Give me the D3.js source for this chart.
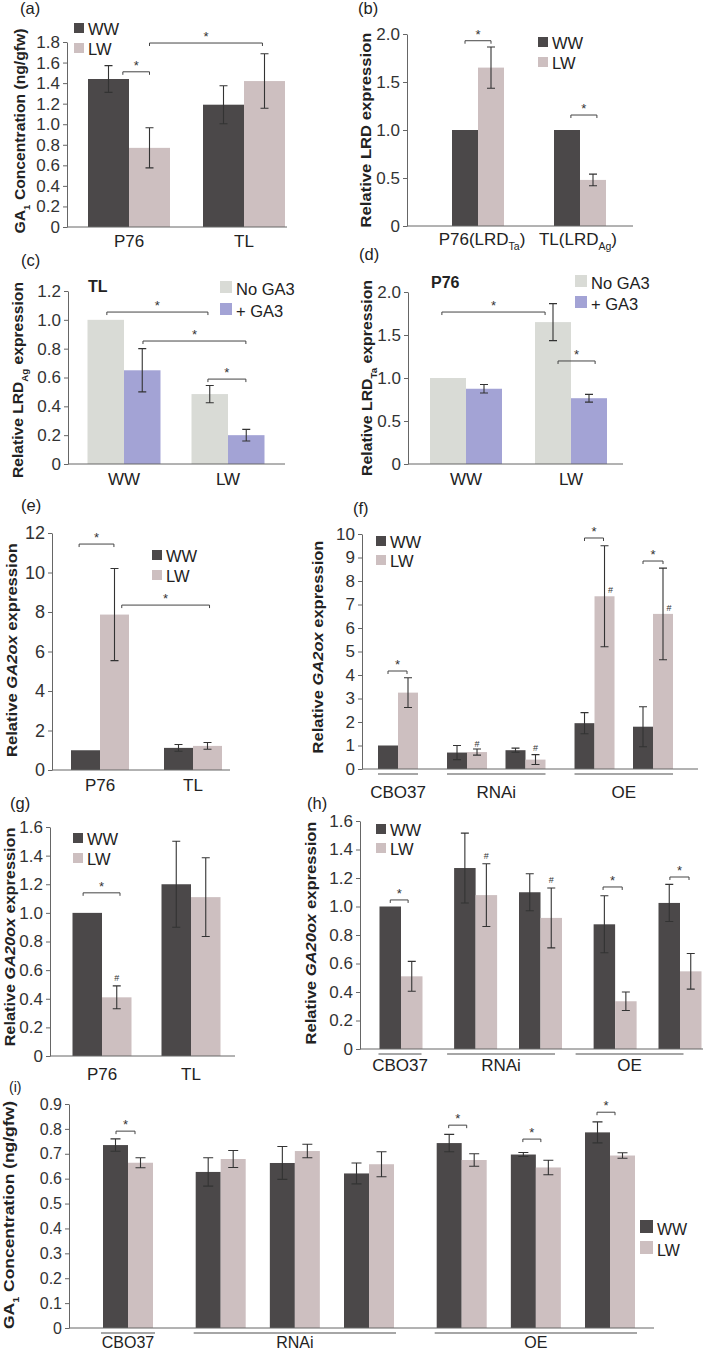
<!DOCTYPE html>
<html><head><meta charset="utf-8">
<script src="https://cdn.jsdelivr.net/npm/d3@7"></script>
<style>body{margin:0;background:#fff}svg{display:block}</style>
</head><body><svg id="c" width="709" height="1350"></svg>
<script>
// ---------------- DATA ----------------
const condWL = ["WW", "LW"];
const condGA = ["No GA3", "+ GA3"];
const catsPT = ["P76", "TL"];
const catsWL = ["WW", "LW"];
// (a) GA1 concentration
const aWW = [1.44, 1.19], aWWerr = [0.13, 0.185];
const aLW = [0.77, 1.42], aLWerr = [0.195, 0.265];
const aTicks = [0, 0.2, 0.4, 0.6, 0.8, 1.0, 1.2, 1.4, 1.6, 1.8];
// (b) relative LRD expression
const bWW = [1.0, 1.0], bWWerr = [0, 0];
const bLW = [1.65, 0.48], bLWerr = [0.215, 0.06];
const bTicks = [0, 0.5, 1.0, 1.5, 2.0];
// (c) TL LRD_Ag
const cNo = [1.0, 0.485], cNoErr = [0, 0.06];
const cGA = [0.65, 0.20], cGAerr = [0.15, 0.04];
const cTicks = [0, 0.2, 0.4, 0.6, 0.8, 1.0, 1.2];
// (d) P76 LRD_Ta
const dNo = [1.0, 1.65], dNoErr = [0, 0.215];
const dGA = [0.875, 0.765], dGAerr = [0.05, 0.045];
const dTicks = [0, 0.5, 1.0, 1.5, 2.0];
// (e) GA2ox
const eWW = [1.0, 1.12], eWWerr = [0, 0.17];
const eLW = [7.87, 1.22], eLWerr = [2.33, 0.17];
const eTicks = [0, 2, 4, 6, 8, 10, 12];
// (f) GA2ox transgenic
const fWW = [1.0, 0.7, 0.8, 1.95, 1.8], fWWerr = [0, 0.3, 0.09, 0.45, 0.85];
const fLW = [3.25, 0.72, 0.4, 7.35, 6.6], fLWerr = [0.63, 0.13, 0.21, 2.15, 1.95];
const fTicks = [0, 1, 2, 3, 4, 5, 6, 7, 8, 9, 10];
const fGroups = [{name: "CBO37", from: 0, to: 0}, {name: "RNAi", from: 1, to: 2}, {name: "OE", from: 3, to: 4}];
// (g) GA20ox
const gWW = [1.0, 1.2], gWWerr = [0, 0.3];
const gLW = [0.41, 1.11], gLWerr = [0.08, 0.275];
const gTicks = [0, 0.2, 0.4, 0.6, 0.8, 1.0, 1.2, 1.4, 1.6];
// (h) GA20ox transgenic
const hWW = [1.0, 1.27, 1.10, 0.875, 1.025], hWWerr = [0, 0.245, 0.13, 0.2, 0.13];
const hLW = [0.51, 1.08, 0.92, 0.335, 0.545], hLWerr = [0.105, 0.22, 0.21, 0.065, 0.125];
const hTicks = [0, 0.2, 0.4, 0.6, 0.8, 1.0, 1.2, 1.4, 1.6];
// (i) GA1 transgenic
const iWW = [0.735, 0.627, 0.663, 0.621, 0.743, 0.697, 0.786], iWWerr = [0.025, 0.057, 0.066, 0.042, 0.035, 0.008, 0.042];
const iLW = [0.664, 0.679, 0.711, 0.658, 0.675, 0.645, 0.693], iLWerr = [0.02, 0.034, 0.027, 0.05, 0.025, 0.029, 0.011];
const iTicks = [0, 0.1, 0.2, 0.3, 0.4, 0.5, 0.6, 0.7, 0.8, 0.9];
const iGroups = [{name: "CBO37", from: 0, to: 0}, {name: "RNAi", from: 1, to: 3}, {name: "OE", from: 4, to: 6}];

// ---------------- STYLE ----------------
const FONT = "'Liberation Sans', Arial, Helvetica, sans-serif";
const C_WW = "#4b4849", C_LW = "#cdbfc0", C_NO = "#d9dbd6", C_GA = "#a3a3d5";
const AX = "#666", ERR = "#333";
const TFS = 17, CFS = 17, LFS = 16.5;
const svg = d3.select("#c");

function rich(t, parts, fs) {
  let lastSub = false;
  parts.forEach(p => {
    const ts = t.append("tspan").text(p.t);
    if (p.it) ts.attr("font-style", "italic");
    if (p.sub) { ts.attr("font-size", fs * 0.62).attr("dy", fs * 0.3); lastSub = true; }
    else if (lastSub) { ts.attr("dy", -fs * 0.3); lastSub = false; }
  });
  return t;
}
function txt(x, y, parts, o) {
  o = o || {};
  const fs = o.fs || 15;
  const t = svg.append("text").attr("font-family", FONT).attr("font-size", fs)
    .attr("fill", o.fill || "#222").attr("text-anchor", o.anchor || "start")
    .attr("font-weight", o.bold ? "bold" : "normal");
  if (typeof parts === "string") t.text(parts); else rich(t, parts, fs);
  if (o.rot) {
    let sc = 1;
    if (o.len) sc = o.len / t.node().getBBox().width;
    t.attr("transform", `translate(${x},${y}) rotate(-90) scale(${sc},1)`);
  } else t.attr("x", x).attr("y", y);
  return t;
}
const fmt1 = d => d === 0 ? "0" : d3.format(".1f")(d);
const fmt0 = d => d3.format("d")(d);

function panel(cfg) {
  const g = svg.append("g");
  const y = d3.scaleLinear().domain([0, cfg.yMax]).range([cfg.y0, cfg.yTop]);
  const xi = d3.scaleLinear().domain([cfg.idx[0], cfg.idx[cfg.idx.length - 1]]).range([cfg.c0, cfg.c1]);
  const xs = d3.scaleBand().domain(cfg.series).range([-cfg.bw, cfg.bw]);
  const cx = i => xi(cfg.idx[i]);
  // bars
  cfg.series.forEach((s, si) => {
    g.append("g").selectAll("rect").data(cfg.values[si]).join("rect")
      .attr("x", (d, i) => cx(i) + xs(s)).attr("width", xs.bandwidth())
      .attr("y", d => y(d)).attr("height", d => cfg.y0 - y(d))
      .attr("fill", cfg.colors[si]);
  });
  // error bars
  cfg.series.forEach((s, si) => {
    const vals = cfg.values[si];
    const eb = g.append("g").attr("stroke", ERR).attr("stroke-width", 1.1).attr("fill", "none");
    const data = vals.map((v, i) => ({v, e: cfg.errors[si][i], x: cx(i) + xs(s) + xs.bandwidth() / 2})).filter(d => d.e > 0);
    eb.selectAll("path").data(data).join("path")
      .attr("d", d => {
        const t = y(d.v + d.e), b = y(d.v - d.e), w = cfg.cap || 4;
        return `M${d.x},${t}V${b}M${d.x - w},${t}H${d.x + w}M${d.x - w},${b}H${d.x + w}`;
      });
  });
  // y axis
  const ax = d3.axisLeft(y).tickValues(cfg.ticks).tickFormat(cfg.fmt).tickSize(4).tickSizeOuter(0).tickPadding(3);
  const ag = g.append("g").attr("transform", `translate(${cfg.ax},0)`).call(ax);
  ag.attr("font-family", FONT).attr("font-size", cfg.tfs || TFS);
  ag.select(".domain").attr("stroke", AX);
  ag.selectAll(".tick line").attr("stroke", AX);
  ag.selectAll(".tick text").attr("fill", "#333");
  // x axis
  g.append("line").attr("x1", cfg.ax).attr("x2", cfg.axEnd).attr("y1", cfg.y0).attr("y2", cfg.y0)
    .attr("stroke", AX).attr("stroke-width", 1);
  // categories
  if (cfg.groups) {
    cfg.groups.forEach((gr, k) => {
      const sh = cfg.gShift ? cfg.gShift[k] : 0;
      const x1 = cx(gr.from) - cfg.bw + sh - (cfg.gExt || 0), x2 = cx(gr.to) + cfg.bw + sh + (cfg.gExt || 0);
      g.append("line").attr("x1", x1).attr("x2", x2).attr("y1", cfg.y0 + 5).attr("y2", cfg.y0 + 5)
        .attr("stroke", "#888").attr("stroke-width", 1.3);
      txt((x1 + x2) / 2, cfg.catY, gr.name, {anchor: "middle", fs: cfg.cfs || CFS});
    });
  } else {
    cfg.cats.forEach((c, i) => txt(cx(i), cfg.catY, c, {anchor: "middle", fs: cfg.cfs || CFS}));
  }
  // significance brackets
  (cfg.brackets || []).forEach(b => {
    const x1 = cx(b[0]) + b[1] * cfg.bw, x2 = cx(b[2]) + b[3] * cfg.bw, yy = y(b[4]);
    g.append("path").attr("d", `M${x1},${yy + 3}V${yy}H${x2}V${yy + 3}`)
      .attr("fill", "none").attr("stroke", "#444").attr("stroke-width", 1);
    txt((x1 + x2) / 2, yy - 2, "*", {anchor: "middle", fs: 13, fill: "#333"});
  });
  (cfg.hashes || []).forEach(h => {
    txt(cx(h[0]) + cfg.bw / 2 + h[2], y(h[1]) + 3.5, "#", {anchor: "middle", fs: 9, fill: "#333"});
  });
  // legend
  if (cfg.legend) {
    const L = cfg.legend;
    cfg.series.forEach((s, si) => {
      const yy = L.y + si * L.dy;
      g.append("rect").attr("x", L.x).attr("y", yy).attr("width", L.s || 10).attr("height", L.s || 10).attr("fill", cfg.colors[si]);
      txt(L.x + (L.s || 10) + (L.gap || 4), yy + (L.s || 10) + 1.5, s, {fs: L.fs || LFS});
    });
  }
}

// ---------------- PANELS ----------------
const TT = {rot: true, bold: true, anchor: "middle", fs: 15.5};
// (a)
txt(20, 14, "(a)", {fs: 16.5});
panel({series: condWL, values: [aWW, aLW], errors: [aWWerr, aLWerr], colors: [C_WW, C_LW],
  y0: 227, yTop: 42, yMax: 1.8, ticks: aTicks, fmt: fmt1, ax: 67, axEnd: 287,
  idx: [0, 1], c0: 129, c1: 244, bw: 41, cats: catsPT, catY: 247,
  brackets: [[0, -0.15, 0, 0.5, 1.51], [0, 0.5, 1, 0.45, 1.79]],
  legend: {x: 74, y: 23, dy: 20}});
txt(25, 131, [{t: "GA"}, {t: "1", sub: true}, {t: " Concentration (ng/gfw)"}], Object.assign({len: 205}, TT));

// (b)
txt(358, 14, "(b)", {fs: 16.5});
panel({series: condWL, values: [bWW, bLW], errors: [bWWerr, bLWerr], colors: [C_WW, C_LW],
  y0: 226, yTop: 34, yMax: 2.0, ticks: bTicks, fmt: fmt1, ax: 407, axEnd: 633,
  idx: [0, 1], c0: 478, c1: 580, bw: 26, cats: [], catY: 245,
  brackets: [[0, -0.5, 0, 0.5, 1.93], [1, -0.35, 1, 0.65, 1.156]],
  legend: {x: 538, y: 37, dy: 20}});
txt(482, 245, [{t: "P76(LRD"}, {t: "Ta", sub: true}, {t: ")"}], {anchor: "middle", fs: CFS});
txt(578, 245, [{t: "TL(LRD"}, {t: "Ag", sub: true}, {t: ")"}], {anchor: "middle", fs: CFS});
txt(371, 130, "Relative LRD expression", Object.assign({len: 195}, TT));

// (c)
txt(21, 266, "(c)", {fs: 16.5});
txt(88, 292, "TL", {bold: true, fs: 16});
panel({series: condGA, values: [cNo, cGA], errors: [cNoErr, cGAerr], colors: [C_NO, C_GA],
  y0: 464, yTop: 291, yMax: 1.2, ticks: cTicks, fmt: fmt1, ax: 68, axEnd: 285,
  idx: [0, 1], c0: 124, c1: 228, bw: 36.5, cats: catsWL, catY: 485,
  brackets: [[0, -0.47, 1, -0.55, 1.054], [0, 0.52, 1, 0.49, 0.853], [1, -0.55, 1, 0.49, 0.589]],
  legend: {x: 220, y: 281, dy: 22, s: 12}});
txt(23, 380, [{t: "Relative LRD"}, {t: "Ag", sub: true}, {t: " expression"}], Object.assign({len: 196}, TT));

// (d)
txt(359, 260, "(d)", {fs: 16.5});
txt(431, 288, "P76", {bold: true, fs: 16});
panel({series: condGA, values: [dNo, dGA], errors: [dNoErr, dGAerr], colors: [C_NO, C_GA],
  y0: 464, yTop: 292, yMax: 2.0, ticks: dTicks, fmt: fmt1, ax: 408, axEnd: 623,
  idx: [0, 1], c0: 466, c1: 571, bw: 36, cats: catsWL, catY: 485,
  brackets: [[0, -0.67, 1, -0.72, 1.767], [1, -0.36, 1, 0.67, 1.198]],
  legend: {x: 575, y: 275, dy: 21, s: 12}});
txt(372, 378, [{t: "Relative LRD"}, {t: "Ta", sub: true}, {t: " expression"}], Object.assign({len: 196}, TT));

// (e)
txt(21, 511, "(e)", {fs: 16.5});
panel({series: condWL, values: [eWW, eLW], errors: [eWWerr, eLWerr], colors: [C_WW, C_LW],
  y0: 770, yTop: 533, yMax: 12, ticks: eTicks, fmt: fmt0, ax: 52, axEnd: 230, tfs: 18,
  idx: [0, 1], c0: 100, c1: 193, bw: 29, cats: catsPT, catY: 791,
  brackets: [[0, -0.72, 0, 0.48, 11.44], [0, 0.75, 1, 0.57, 8.35]],
  legend: {x: 152, y: 550, dy: 20}});
txt(17, 650, [{t: "Relative "}, {t: "GA2ox", it: true}, {t: " expression"}], Object.assign({len: 214}, TT));

// (f)
txt(353, 514, "(f)", {fs: 16.5});
panel({series: condWL, values: [fWW, fLW], errors: [fWWerr, fLWerr], colors: [C_WW, C_LW],
  y0: 769, yTop: 534, yMax: 10, ticks: fTicks, fmt: fmt0, ax: 362, axEnd: 698,
  idx: [0, 1.18, 2.18, 3.36, 4.36], c0: 398, c1: 653, bw: 20, groups: fGroups, catY: 798,
  brackets: [[0, -0.5, 0, 0.45, 4.17], [3, -0.5, 3, 0.45, 9.83], [4, -0.5, 4, 0.5, 8.85]],
  hashes: [[1, 1.1, 0], [2, 0.9, 0], [3, 7.64, 6], [4, 6.87, 6]],
  legend: {x: 376, y: 536, dy: 19}});
txt(323, 647, [{t: "Relative "}, {t: "GA2ox", it: true}, {t: " expression"}], Object.assign({len: 213}, TT));

// (g)
txt(10, 809, "(g)", {fs: 16.5});
panel({series: condWL, values: [gWW, gLW], errors: [gWWerr, gLWerr], colors: [C_WW, C_LW],
  y0: 1056, yTop: 827, yMax: 1.6, ticks: gTicks, fmt: fmt1, ax: 50, axEnd: 235,
  idx: [0, 1], c0: 102, c1: 191, bw: 29.5, cats: catsPT, catY: 1080,
  brackets: [[0, -0.64, 0, 0.61, 1.14]], hashes: [[0, 0.545, 0]],
  legend: {x: 73, y: 833, dy: 20}});
txt(15, 937, [{t: "Relative "}, {t: "GA20ox", it: true}, {t: " expression"}], Object.assign({len: 219}, TT));

// (h)
txt(307, 809, "(h)", {fs: 16.5});
panel({series: condWL, values: [hWW, hLW], errors: [hWWerr, hLWerr], colors: [C_WW, C_LW],
  y0: 1049, yTop: 821, yMax: 1.6, ticks: hTicks, fmt: fmt1, ax: 360, axEnd: 703,
  idx: [0, 1.15, 2.15, 3.3, 4.3], c0: 401, c1: 680, bw: 21.5, groups: fGroups, gShift: [-1, -7, -18], catY: 1071,
  brackets: [[0, -0.5, 0, 0.33, 1.046], [3, -0.56, 3, 0.33, 1.137], [4, -0.47, 4, 0.42, 1.207]],
  hashes: [[1, 1.36, 0], [2, 1.19, 0]],
  legend: {x: 376, y: 824, dy: 19}});
txt(316, 933, [{t: "Relative "}, {t: "GA20ox", it: true}, {t: " expression"}], Object.assign({len: 223}, TT));

// (i)
txt(9, 1092, "(i)", {fs: 14});
panel({series: condWL, values: [iWW, iLW], errors: [iWWerr, iLWerr], colors: [C_WW, C_LW],
  y0: 1328, yTop: 1104, yMax: 0.9, ticks: iTicks, fmt: fmt1, ax: 69, axEnd: 654, tfs: 16, cfs: 16,
  idx: [0, 1.25, 2.25, 3.25, 4.5, 5.5, 6.5], c0: 128, c1: 610, bw: 25, cap: 5, groups: iGroups, gExt: 2, catY: 1348,
  brackets: [[0, -0.48, 0, 0.28, 0.791], [4, -0.52, 4, 0.2, 0.815], [5, -0.52, 5, 0.2, 0.759], [6, -0.52, 6, 0.2, 0.867]],
  legend: {x: 640, y: 1220, dy: 21, s: 13, fs: 16}});
txt(14, 1215, [{t: "GA"}, {t: "1", sub: true}, {t: " Concentration (ng/gfw)"}], Object.assign({len: 228}, TT));
</script></body></html>
